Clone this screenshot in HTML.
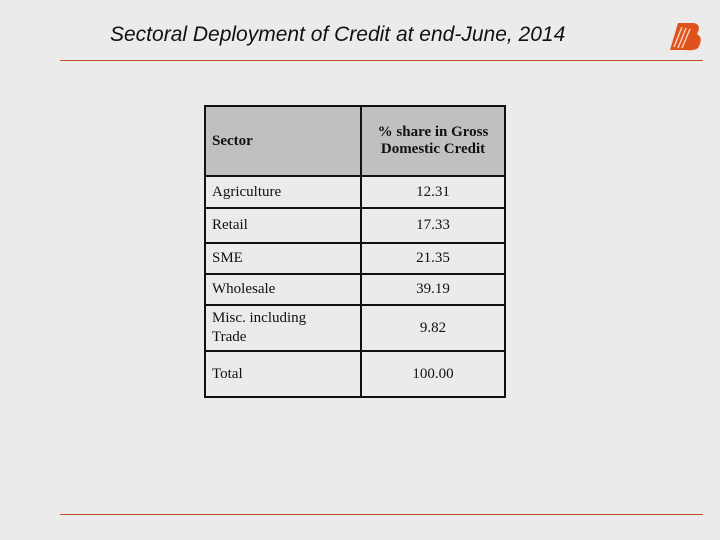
<!DOCTYPE html>
<html><head><style>
body{margin:0;width:720px;height:540px;background:#ebebeb;position:relative;overflow:hidden;font-family:"Liberation Serif",serif;}
.title{position:absolute;left:110px;top:23px;font-family:"Liberation Sans",sans-serif;font-style:italic;font-size:21px;color:#111;white-space:nowrap;}
.rule{position:absolute;left:60px;width:643px;height:1px;background:#c0502a;}
table{position:absolute;left:204px;top:105px;border-collapse:collapse;table-layout:fixed;width:300px;font-size:15px;color:#111;}
td{border:2px solid #111;padding:0 6px;overflow:hidden;}
td.v{text-align:center;}
tr.h td{background:#c0c0c0;}
</style></head><body>
<div class="title">Sectoral Deployment of Credit at end-June, 2014</div>
<svg style="position:absolute;left:664px;top:20px" width="40" height="32" viewBox="0 0 40 32">
<path d="M6 30 L14 3 L30 3 Q38 5 33 14 Q40 18 34 28 Q30 31 22 30 Z" fill="#e0521c"/>
<path d="M10 27 L18 7 M14 28 L22 8 M18 28 L26 9" stroke="#f9d0b8" stroke-width="1.5"/>
</svg>
<div class="rule" style="top:60px"></div>
<div class="rule" style="top:514px"></div>
<table>
<colgroup><col style="width:156px"><col style="width:144px"></colgroup>
<tr class="h" style="height:70px"><td style="font-weight:bold">Sector</td><td class="v" style="font-weight:bold">% share in Gross Domestic Credit</td></tr>
<tr style="height:32px"><td>Agriculture</td><td class="v">12.31</td></tr>
<tr style="height:35px"><td>Retail</td><td class="v">17.33</td></tr>
<tr style="height:31px"><td>SME</td><td class="v">21.35</td></tr>
<tr style="height:31px"><td>Wholesale</td><td class="v">39.19</td></tr>
<tr style="height:46px"><td style="line-height:19px">Misc. including<br>Trade</td><td class="v">9.82</td></tr>
<tr style="height:46px"><td>Total</td><td class="v">100.00</td></tr>
</table>
</body></html>
